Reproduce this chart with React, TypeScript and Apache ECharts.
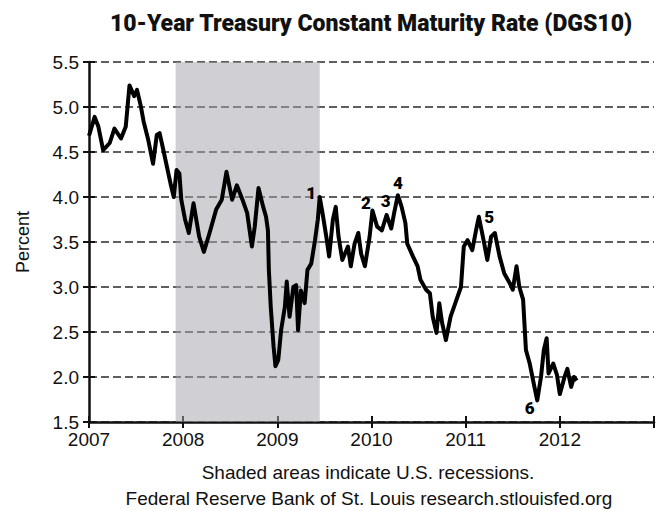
import React, { useEffect, useRef } from "react";
import * as echarts from "echarts";

// Decimal years and 10-year Treasury yield (percent)
const years = [
  2007.0, 2007.06, 2007.1, 2007.15, 2007.22, 2007.27, 2007.34, 2007.39, 2007.43, 2007.48,
  2007.51, 2007.55, 2007.58, 2007.63, 2007.68, 2007.72, 2007.75, 2007.79, 2007.87, 2007.9,
  2007.93, 2007.96, 2007.98, 2008.02, 2008.06, 2008.11, 2008.17, 2008.22, 2008.28, 2008.35,
  2008.41, 2008.46, 2008.52, 2008.57, 2008.63, 2008.68, 2008.73, 2008.76, 2008.8, 2008.85,
  2008.88, 2008.9, 2008.91, 2008.93, 2008.96, 2008.98, 2009.01, 2009.04, 2009.08, 2009.1,
  2009.13, 2009.17, 2009.2, 2009.22, 2009.25, 2009.29, 2009.32, 2009.36, 2009.4, 2009.43,
  2009.45, 2009.48, 2009.52, 2009.55, 2009.59, 2009.62, 2009.65, 2009.69, 2009.75, 2009.78,
  2009.82, 2009.86, 2009.89, 2009.93, 2009.98, 2010.01, 2010.06, 2010.11, 2010.16, 2010.21,
  2010.24, 2010.28, 2010.32, 2010.36, 2010.38, 2010.44, 2010.49, 2010.52, 2010.58, 2010.62,
  2010.65, 2010.69, 2010.72, 2010.75, 2010.79, 2010.84, 2010.89, 2010.95, 2010.98, 2011.02,
  2011.07, 2011.11, 2011.14, 2011.19, 2011.23, 2011.27, 2011.31, 2011.36, 2011.41, 2011.47,
  2011.5, 2011.54, 2011.57, 2011.61, 2011.64, 2011.68, 2011.73, 2011.76, 2011.8, 2011.83,
  2011.86, 2011.88, 2011.93, 2011.97, 2012.0, 2012.05, 2012.08, 2012.12, 2012.15, 2012.18,
];
const rates = [
  4.68, 4.89, 4.78, 4.52, 4.6, 4.76, 4.65, 4.78, 5.24, 5.12,
  5.19, 5.01, 4.84, 4.63, 4.37, 4.69, 4.71, 4.52, 4.13, 4.0,
  4.3, 4.26, 3.97, 3.75, 3.6, 3.93, 3.56, 3.39, 3.6, 3.86,
  3.97, 4.28, 3.97, 4.13, 3.97, 3.82, 3.45, 3.67, 4.1, 3.89,
  3.78, 3.63, 3.19, 2.78, 2.34, 2.12, 2.19, 2.52, 2.78, 3.06,
  2.67, 3.0, 3.02, 2.52, 2.96, 2.82, 3.19, 3.26, 3.52, 3.75,
  4.0, 3.82, 3.56, 3.34, 3.75, 3.89, 3.56, 3.3, 3.45, 3.23,
  3.48, 3.6, 3.37, 3.23, 3.56, 3.85, 3.67, 3.63, 3.8, 3.65,
  3.82, 4.02, 3.89, 3.71, 3.48, 3.34, 3.23, 3.08, 2.97, 2.93,
  2.67, 2.49, 2.82, 2.6, 2.41, 2.67, 2.82, 3.0, 3.45, 3.52,
  3.41, 3.63, 3.78, 3.52, 3.3, 3.56, 3.6, 3.34, 3.15, 3.04,
  2.97, 3.23, 3.0, 2.86, 2.3, 2.15, 1.89, 1.74, 2.0, 2.3,
  2.43, 2.04, 2.15, 2.02, 1.81, 2.0, 2.09, 1.89, 2.0, 1.96,
];

// Recession periods (decimal years)
const recessions = [[2007.92, 2009.45]];

// Numbered annotations
const annotationX = [2009.36, 2009.94, 2010.15, 2010.28, 2011.25, 2011.68];
const annotationY = [4.04, 3.93, 3.96, 4.16, 3.78, 1.66];
const annotationLabels = ["1", "2", "3", "4", "5", "6"];

const yTicks = ["1.5", "2.0", "2.5", "3.0", "3.5", "4.0", "4.5", "5.0", "5.5"];
const xYearLabels = ["2007", "2008", "2009", "2010", "2011", "2012"];

const titleText = "10-Year Treasury Constant Maturity Rate (DGS10)";
const footer1 = "Shaded areas indicate U.S. recessions.";
const footer2 = "Federal Reserve Bank of St. Louis research.stlouisfed.org";

export default function App() {
  const ref = useRef<HTMLDivElement>(null);
  useEffect(() => {
    document.body.style.margin = "0";
    if (!ref.current) return;
    const chart = echarts.init(ref.current, null, { renderer: "svg" });
    const sans = "'Liberation Sans', Arial, sans-serif";
    const heavy = "Roboto, 'Liberation Sans', sans-serif";
    const lineData = years.map((y, i) => [y, rates[i]]);
    const annData = annotationX.map((x, i) => ({ value: [x, annotationY[i]], name: annotationLabels[i] }));
    const yMin = parseFloat(yTicks[0]);
    const yMax = parseFloat(yTicks[yTicks.length - 1]);
    const xMin = parseInt(xYearLabels[0], 10);
    const xMax = parseInt(xYearLabels[xYearLabels.length - 1], 10) + 1;

    chart.setOption({
      animation: false,
      backgroundColor: "#fff",
      title: {
        text: titleText,
        left: 366,
        top: 7,
        textAlign: "center",
        textStyle: { fontFamily: heavy, fontWeight: 900, fontSize: 23, color: "#111" },
      },
      graphic: [
        { type: "text", x: 368, y: 472, style: { text: footer1, fontFamily: sans, fontSize: 19, fill: "#111", textAlign: "center", textVerticalAlign: "middle" } },
        { type: "text", x: 369, y: 498, style: { text: footer2, fontFamily: sans, fontSize: 19, fill: "#111", textAlign: "center", textVerticalAlign: "middle" } },
      ],
      grid: { left: 89, right: 2, top: 62, bottom: 89 },
      xAxis: [
        {
          type: "value", min: xMin, max: xMax, interval: 1,
          axisLine: { show: true, lineStyle: { color: "#111", width: 2.5 } },
          axisTick: { show: true, length: 6, lineStyle: { color: "#111", width: 2 } },
          axisLabel: {
            fontFamily: sans, fontSize: 19, color: "#111", margin: 8,
            formatter: (v: number) => (xYearLabels.includes(String(v)) ? String(v) : ""),
          },
          splitLine: { show: false },
        },
        {
          type: "value", min: xMin, max: xMax, interval: 1, position: "bottom",
          axisLine: { show: false },
          axisTick: { show: true, inside: true, length: 6, lineStyle: { color: "#111", width: 2 } },
          axisLabel: { show: false },
          splitLine: { show: false },
        },
      ],
      yAxis: [
        {
          type: "value", min: yMin, max: yMax, interval: 0.5,
          name: "Percent", nameLocation: "middle", nameGap: 57, nameRotate: 90,
          nameTextStyle: { fontFamily: sans, fontSize: 18, color: "#111" },
          axisLine: { show: true, lineStyle: { color: "#111", width: 2.5 } },
          axisTick: { show: true, length: 6, lineStyle: { color: "#111", width: 2 } },
          axisLabel: { fontFamily: sans, fontSize: 19, color: "#111", margin: 10, formatter: (v: number) => v.toFixed(1) },
          splitLine: { show: true, lineStyle: { color: "#2a2a2a", width: 1.6, type: [8, 4] } },
        },
        {
          type: "value", min: yMin, max: yMax, interval: 0.5, position: "left",
          axisLine: { show: false },
          axisTick: { show: true, inside: true, length: 6, lineStyle: { color: "#111", width: 2 } },
          axisLabel: { show: false },
          splitLine: { show: false },
        },
      ],
      series: [
        {
          type: "line",
          data: lineData,
          showSymbol: false,
          symbol: "none",
          lineStyle: { color: "#000", width: 4, join: "round" },
          z: 3,
          markArea: {
            silent: true,
            itemStyle: { color: "rgba(165,165,172,0.52)" },
            data: recessions.map(([a, b]) => [{ xAxis: a }, { xAxis: b }]),
          },
        },
        {
          type: "scatter",
          data: annData,
          symbolSize: 1,
          itemStyle: { opacity: 0 },
          z: 4,
          label: {
            show: true, position: "inside", formatter: (p: any) => p.name,
            fontFamily: heavy, fontWeight: 900, fontSize: 17, color: "#000", opacity: 1,
          },
        },
      ],
    });
    return () => chart.dispose();
  }, []);
  return <div ref={ref} style={{ width: 657, height: 511 }} />;
}
